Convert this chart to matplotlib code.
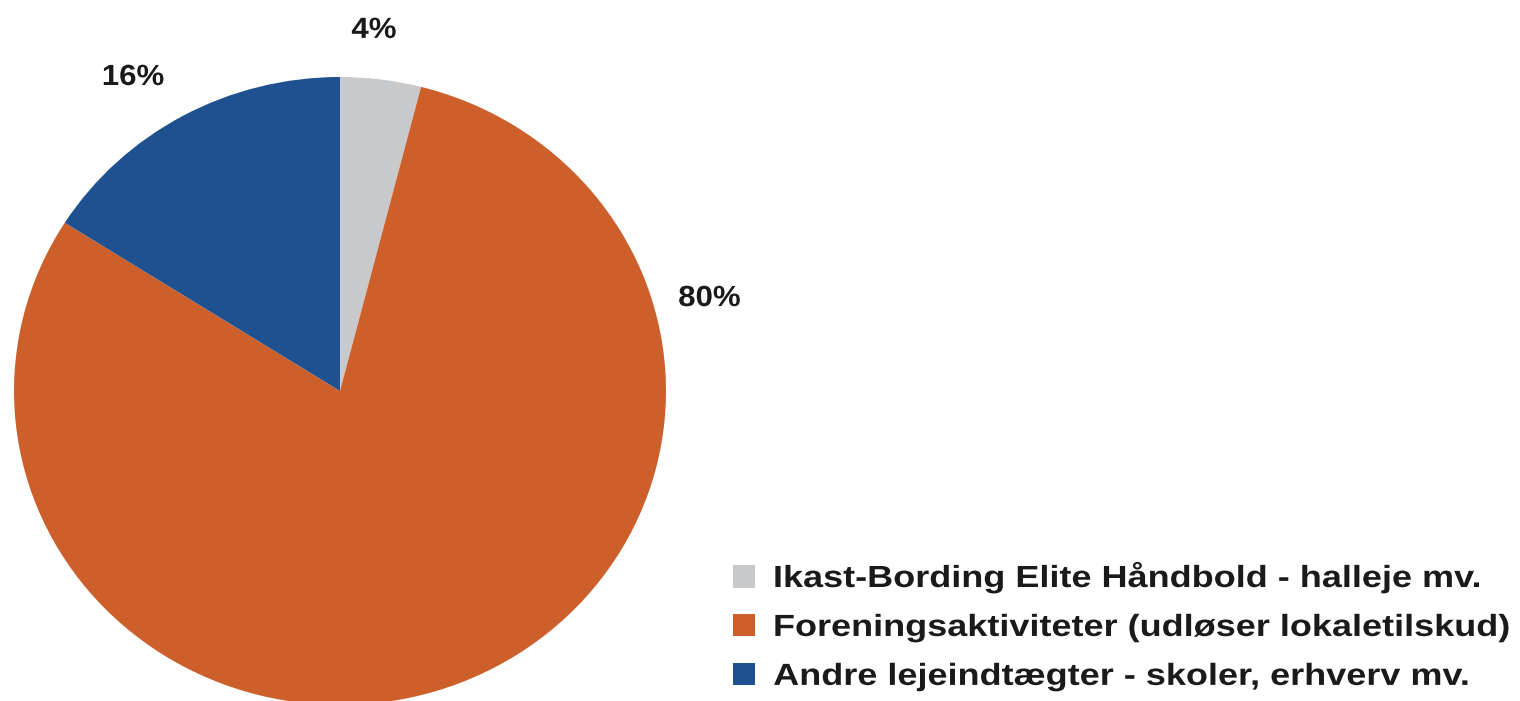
import numpy as np
import matplotlib.pyplot as plt
from matplotlib.patches import Patch
from matplotlib.patheffects import AbstractPathEffect
from matplotlib.transforms import Affine2D

labels = ["Ikast-Bording Elite Håndbold - halleje mv.",
          "Foreningsaktiviteter (udløser lokaletilskud)",
          "Andre lejeindtægter - skoler, erhverv mv."]
shares = [4, 80, 16]
colors = ["#C8C9CB", "#CD5F2A", "#1F5190"]
# percent label positions (data units, pie radius = 1)
label_xy = [(0.104, 1.15), (1.133, 0.296), (-0.635, 1.0)]

plt.rcParams['font.family'] = ['Liberation Sans', 'DejaVu Sans']


class Stretch(AbstractPathEffect):
    # widen text horizontally, like the original rendering
    def __init__(self, sx, anchor="left"):
        super().__init__()
        self.sx = sx
        self.anchor = anchor

    def draw_path(self, renderer, gc, tpath, affine, rgbFace=None):
        ext = tpath.get_extents()
        cx = ext.x0 if self.anchor == "left" else (ext.x0 + ext.x1) / 2
        pre = Affine2D().translate(-cx, 0).scale(self.sx, 1).translate(cx, 0)
        renderer.draw_path(gc, tpath, pre + affine, rgbFace)


fig = plt.figure(figsize=(15.2, 7.01), dpi=100)
ax = fig.add_axes([0, 0, 1, 1])

ax.pie(shares, colors=colors, startangle=90, counterclock=False,
       radius=1.0, center=(0, 0))
ax.set_aspect('auto')
# pie is slightly wider than tall in the original
ax.set_xlim(-340 / 326, (1520 - 340) / 326)
ax.set_ylim(-310 / 314, 391 / 314)
ax.axis('off')

for s, (x, y) in zip(shares, label_xy):
    ax.text(x, y, f"{s}%", ha='center', va='center', fontsize=21,
            fontweight='bold', color='#1a1a1a',
            path_effects=[Stretch(1.07, "center")])

handles = [Patch(facecolor=c, edgecolor='none') for c in colors]
leg = fig.legend(handles, labels, loc='upper left',
                 bbox_to_anchor=(733 / 1520, 1 - 561 / 701),
                 frameon=False, prop={'weight': 'bold', 'size': 22},
                 handlelength=0.72, handleheight=0.75, handletextpad=0.6,
                 labelspacing=0.62, borderpad=0, borderaxespad=0)
for t in leg.get_texts():
    t.set_color('#1a1a1a')
    t.set_path_effects([Stretch(1.18)])

fig.savefig("out.png", dpi=100)
